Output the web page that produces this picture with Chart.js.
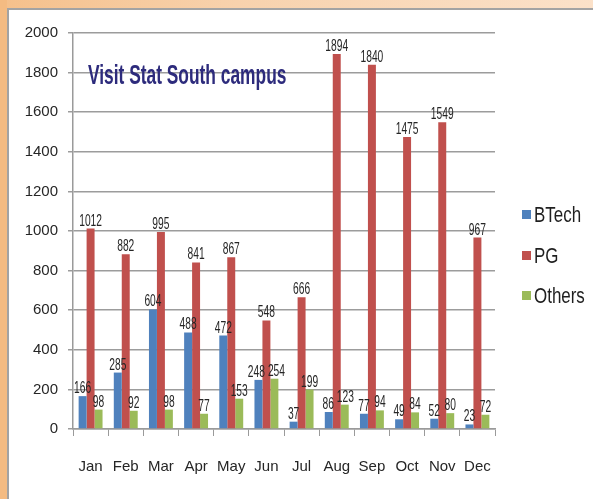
<!DOCTYPE html>
<html>
<head>
<meta charset="utf-8">
<script src="https://cdn.jsdelivr.net/npm/chart.js@4/dist/chart.umd.min.js"></script>
<style>
  html, body { margin: 0; padding: 0; }
  #frame {
    position: relative; width: 593px; height: 499px; overflow: hidden;
    background: linear-gradient(to right, #f5c08b 0%, #f8d2ad 40%, #fbe1c9 100%);
  }
  #frame:before {
    content: ""; position: absolute; left: 0; top: 0; width: 7px; height: 499px; background: #f4bb82;
  }
  #panel {
    position: absolute; left: 7px; top: 8px; width: 590px; height: 495px;
    background: #ffffff; border-top: 2px solid #a3a3a3; border-left: 2px solid #a3a3a3;
  }
  #c { position: absolute; left: 0; top: 0; }
</style>
</head>
<body>
<div id="frame">
  <div id="panel"></div>
  <canvas id="c" width="593" height="499"></canvas>
</div>
<script>
const months = ['Jan','Feb','Mar','Apr','May','Jun','Jul','Aug','Sep','Oct','Nov','Dec'];
const btech  = [166, 285, 604, 488, 472, 248, 37, 86, 77, 49, 52, 23];
const pg     = [1012, 882, 995, 841, 867, 548, 666, 1894, 1840, 1475, 1549, 967];
const others = [98, 92, 98, 77, 153, 254, 199, 123, 94, 84, 80, 72];
const seriesNames = ['BTech', 'PG', 'Others'];
const seriesColors = ['#4f81bd', '#c0504d', '#9bbb59'];
const titleText = 'Visit Stat South campus';
const yMin = 0, yMax = 2000, yStep = 200;

const FONT = '"Liberation Sans", Arial, sans-serif';
const LABEL_SX = 0.64;

const overlay = {
  id: 'overlay',
  afterDatasetsDraw(chart) {
    const ctx = chart.ctx;
    ctx.save();
    ctx.fillStyle = '#262626';
    ctx.font = '16px ' + FONT;
    ctx.textAlign = 'center';
    ctx.textBaseline = 'alphabetic';
    const n = chart.data.labels.length;
    for (let i = 0; i < n; i++) {
      const items = chart.data.datasets.map((ds, di) => {
        const bar = chart.getDatasetMeta(di).data[i];
        const txt = String(ds.data[i]);
        const w = ctx.measureText(txt).width * LABEL_SX;
        return { txt, x: bar.x, y: bar.y - 3, w };
      });
      // push apart overlapping labels within a category
      for (let a = 0; a < items.length; a++) {
        for (let b = a + 1; b < items.length; b++) {
          const A = items[a], B = items[b];
          if (Math.abs(A.y - B.y) < 13) {
            const overlap = (A.x + A.w / 2 + 3) - (B.x - B.w / 2);
            if (overlap > 0) { A.x -= overlap / 2; B.x += overlap / 2; }
          }
        }
      }
      items.forEach(it => {
        ctx.save();
        ctx.translate(it.x, it.y);
        ctx.scale(LABEL_SX, 1);
        ctx.fillText(it.txt, 0, 0);
        ctx.restore();
      });
    }
    ctx.restore();
  },
  afterDraw(chart) {
    const ctx = chart.ctx;
    // title
    ctx.save();
    ctx.fillStyle = '#2d2b7c';
    ctx.font = 'bold 28px ' + FONT;
    ctx.textAlign = 'left';
    ctx.textBaseline = 'alphabetic';
    ctx.translate(88, 84);
    ctx.scale(0.62, 1);
    ctx.fillText(titleText, 0, 0);
    ctx.restore();
    // legend
    const ys = [215, 256, 296];
    seriesNames.forEach((name, k) => {
      ctx.save();
      ctx.fillStyle = seriesColors[k];
      ctx.fillRect(522, ys[k] - 5, 9, 9);
      ctx.fillStyle = '#1f1f1f';
      ctx.font = '22px ' + FONT;
      ctx.textAlign = 'left';
      ctx.textBaseline = 'middle';
      ctx.translate(534, ys[k] + 1);
      ctx.scale(0.77, 1);
      ctx.fillText(name, 0, 0);
      ctx.restore();
    });
  }
};

new Chart(document.getElementById('c'), {
  type: 'bar',
  data: {
    labels: months,
    datasets: [
      { label: seriesNames[0], data: btech,  backgroundColor: seriesColors[0] },
      { label: seriesNames[1], data: pg,     backgroundColor: seriesColors[1] },
      { label: seriesNames[2], data: others, backgroundColor: seriesColors[2] }
    ]
  },
  options: {
    responsive: false,
    animation: false,
    devicePixelRatio: 1,
    layout: { padding: { left: 0, top: 33, right: 98, bottom: 0 } },
    datasets: { bar: { categoryPercentage: 0.68, barPercentage: 1.0 } },
    plugins: { legend: { display: false }, tooltip: { enabled: false } },
    scales: {
      x: {
        grid: { offset: true, drawOnChartArea: false, drawTicks: true, tickLength: 7, color: '#9a9a9a', lineWidth: 1 },
        border: { display: true, color: '#9a9a9a', width: 1.5 },
        ticks: { color: '#262626', font: { family: FONT, size: 15 }, padding: 22, maxRotation: 0 },
        afterFit(s) { s.height = 70; }
      },
      y: {
        min: yMin, max: yMax,
        grid: { color: '#9c9c9c', lineWidth: 1.5, tickLength: 5, drawTicks: true },
        border: { display: true, color: '#9a9a9a', width: 1.5 },
        ticks: { stepSize: yStep, color: '#262626', font: { family: FONT, size: 15 }, padding: 10,
                 callback: (v) => String(v) },
        afterFit(s) { s.width = 73; }
      }
    }
  },
  plugins: [overlay]
});
</script>
</body>
</html>
